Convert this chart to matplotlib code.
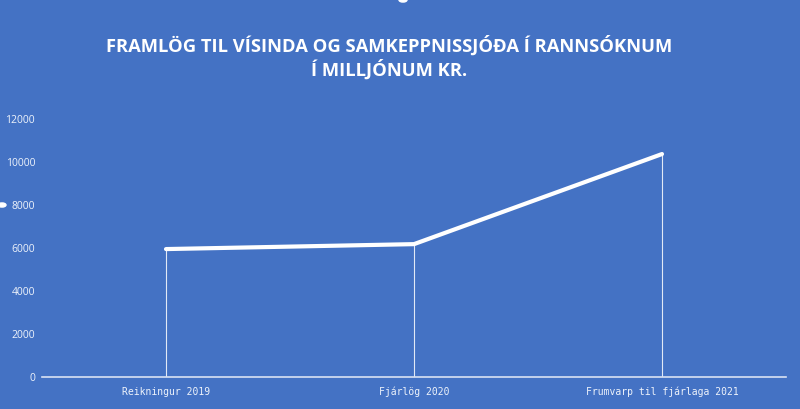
import matplotlib
matplotlib.use("Agg")
import matplotlib.pyplot as plt

categories = ["Reikningur 2019", "Fjárlög 2020", "Frumvarp til fjárlaga 2021"]
values = [5950, 6180, 10370]
yticks = [0, 2000, 4000, 6000, 8000, 10000, 12000]
title = "FRAMLÖG TIL VÍSINDA OG SAMKEPPNISSJÓÐA Í RANNSÓKNUM\nÍ MILLJÓNUM KR."

bg = "#4472C4"
txt = "#eef3fb"

fig = plt.figure(figsize=(8, 4.09), dpi=100, facecolor=bg)
# axes box in pixels: x 42..786, y 119..377 (from top)
ax = fig.add_axes([42 / 800, (409 - 377) / 409, 744 / 800, 258 / 409])
ax.set_facecolor(bg)

x = list(range(len(categories)))
ax.plot(x, values, color="white", lw=3, solid_capstyle="round", zorder=3)
ax.vlines(x, 0, values, color="white", lw=0.8, alpha=0.85, zorder=2)

ax.set_xlim(-0.5, len(categories) - 0.5)
ax.set_ylim(0, 12000)
ax.set_yticks(yticks)
ax.set_yticklabels([str(v) for v in yticks], fontsize=7.5, color=txt,
                   family="Open Sans")
ax.set_xticks(x)
ax.set_xticklabels(categories, fontsize=7.0, color=txt, family="DejaVu Sans Mono")
ax.tick_params(axis="x", length=0, pad=7)
ax.tick_params(axis="y", length=0, pad=5)

for s in ["top", "right", "left"]:
    ax.spines[s].set_visible(False)
ax.spines["bottom"].set_color("#d9e2f3")
ax.spines["bottom"].set_linewidth(1.2)

fig.text(389 / 800, 1 - 57.5 / 409, title, ha="center", va="center",
         color="white", fontsize=13.2, fontweight="bold", family="Open Sans",
         linespacing=1.25)

# little selection handles seen on the screenshot edges
fig.add_artist(plt.Circle((2 / 800, 1 - 205 / 409), 0.005, color="white",
                          transform=fig.transFigure))
fig.add_artist(plt.Circle((403 / 800, 1.0), 0.005, color="white",
                          transform=fig.transFigure))

fig.savefig("out.png", dpi=100, facecolor=bg)
